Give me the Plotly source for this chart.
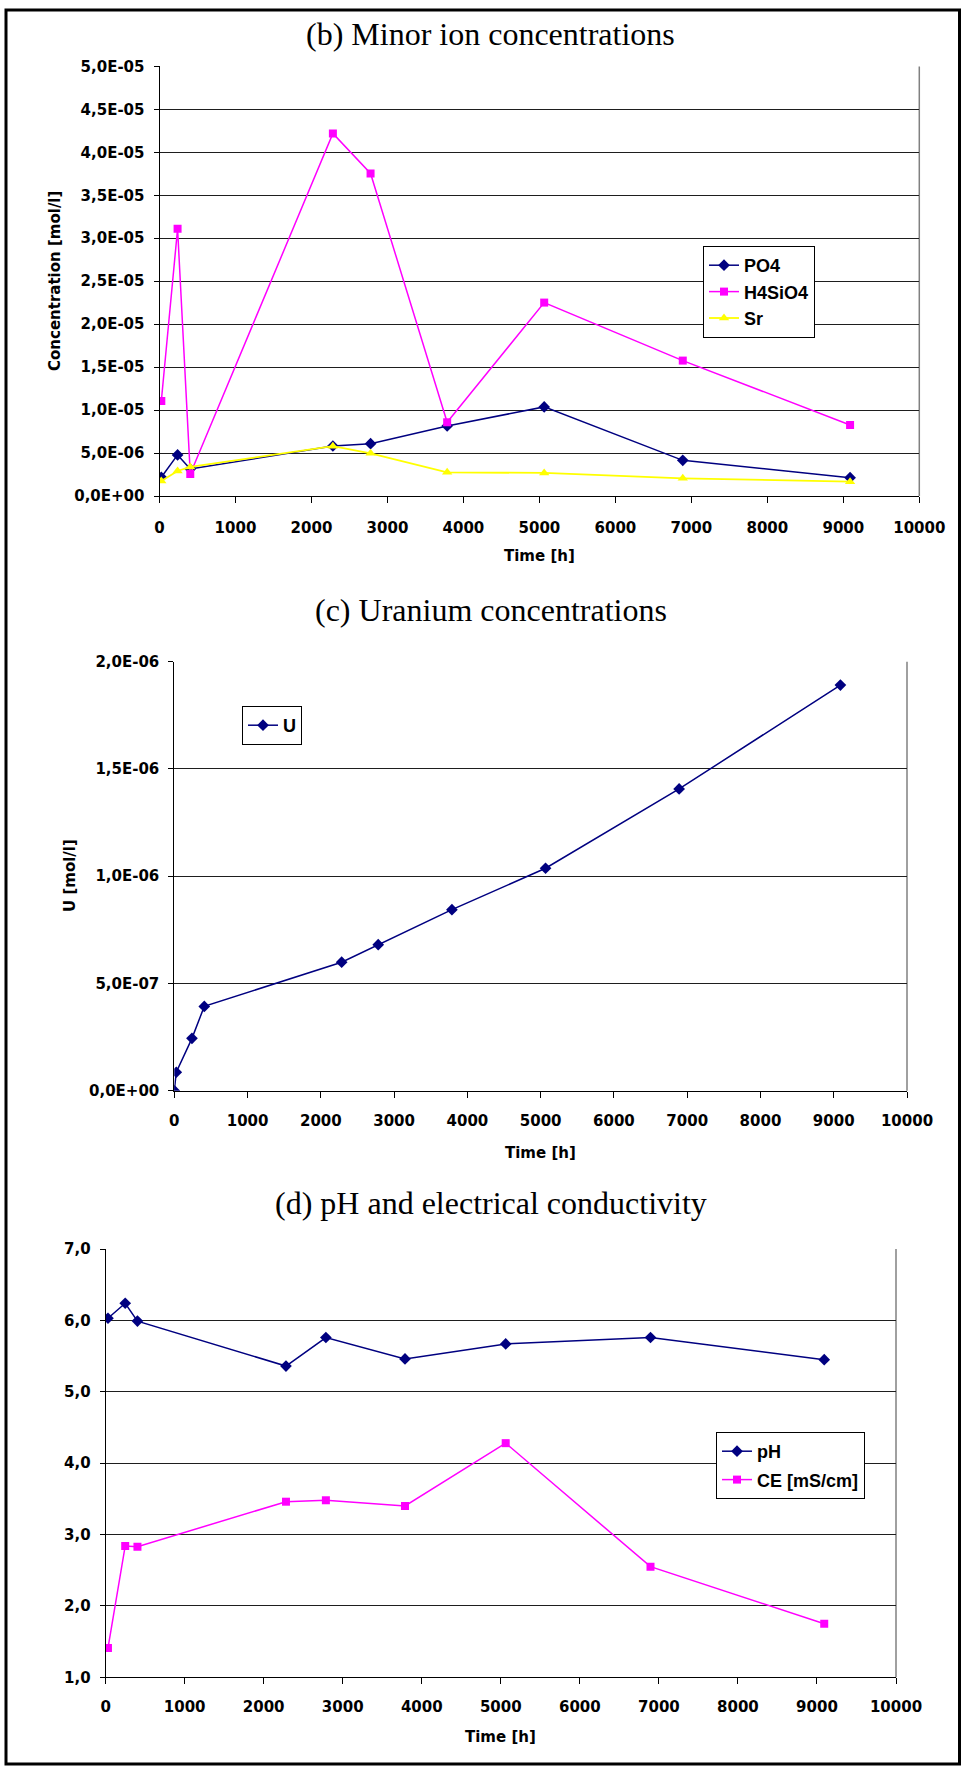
import plotly.graph_objects as go

# ---------------- data ----------------
time_b = [24, 238, 405, 2282, 2778, 3786, 5063, 6887, 9089]
po4 = [2.18e-6, 4.78e-6, 3.14e-6, 5.82e-6, 6.09e-6, 8.15e-6, 1.037e-5, 4.15e-6, 2.13e-6]
h4sio4 = [1.106e-5, 3.11e-5, 2.56e-6, 4.22e-5, 3.754e-5, 8.58e-6, 2.251e-5, 1.576e-5, 8.27e-6]
sr = [1.75e-6, 2.91e-6, 3.38e-6, 5.80e-6, 4.97e-6, 2.76e-6, 2.68e-6, 2.06e-6, 1.67e-6]

time_c = [0, 27, 241, 409, 2284, 2783, 3789, 5067, 6890, 9091]
u = [0, 8.6e-8, 2.44e-7, 3.93e-7, 5.99e-7, 6.81e-7, 8.44e-7, 1.037e-6, 1.407e-6, 1.891e-6]

time_d = [30, 248, 403, 2282, 2787, 3788, 5062, 6894, 9092]
ph = [6.03, 6.24, 5.99, 5.36, 5.76, 5.46, 5.67, 5.76, 5.45]
ce = [1.41, 2.84, 2.83, 3.46, 3.48, 3.40, 4.28, 2.55, 1.75]

x_tickvals = [0, 1000, 2000, 3000, 4000, 5000, 6000, 7000, 8000, 9000, 10000]
x_ticktext = ["0", "1000", "2000", "3000", "4000", "5000", "6000", "7000", "8000", "9000", "10000"]

yb_tickvals = [0, 5e-6, 1e-5, 1.5e-5, 2e-5, 2.5e-5, 3e-5, 3.5e-5, 4e-5, 4.5e-5, 5e-5]
yb_ticktext = ["0,0E+00", "5,0E-06", "1,0E-05", "1,5E-05", "2,0E-05", "2,5E-05",
               "3,0E-05", "3,5E-05", "4,0E-05", "4,5E-05", "5,0E-05"]
yc_tickvals = [0, 5e-7, 1e-6, 1.5e-6, 2e-6]
yc_ticktext = ["0,0E+00", "5,0E-07", "1,0E-06", "1,5E-06", "2,0E-06"]
yd_tickvals = [1, 2, 3, 4, 5, 6, 7]
yd_ticktext = ["1,0", "2,0", "3,0", "4,0", "5,0", "6,0", "7,0"]

# ---------------- layout helpers ----------------
W, H = 962, 1767
NAVY = "#000080"
MAG = "#FF00FF"
YEL = "#FFFF00"

def px_x(p):
    return p / W

def px_y(p):
    return 1 - p / H

TICKFONT = dict(family="DejaVu Sans", size=15, color="black", weight="bold")
LEGFONT = dict(family="Liberation Sans, Arial", size=18, color="black", weight="bold")

fig = go.Figure()

# chart (b)
fig.add_trace(go.Scatter(x=time_b, y=po4, name="PO4", mode="lines+markers",
                         line=dict(color=NAVY, width=1.5),
                         marker=dict(symbol="diamond", size=9, color=NAVY),
                         xaxis="x", yaxis="y", legend="legend", legendgroup="a"))
fig.add_trace(go.Scatter(x=time_b, y=h4sio4, name="H4SiO4", mode="lines+markers",
                         line=dict(color=MAG, width=1.5),
                         marker=dict(symbol="square", size=8, color=MAG),
                         xaxis="x", yaxis="y", legend="legend", legendgroup="b"))
fig.add_trace(go.Scatter(x=time_b, y=sr, name="Sr", mode="lines+markers",
                         line=dict(color=YEL, width=1.8),
                         marker=dict(symbol="triangle-up", size=9, color=YEL),
                         xaxis="x", yaxis="y", legend="legend", legendgroup="c"))
# chart (c)
fig.add_trace(go.Scatter(x=time_c, y=u, name="U", mode="lines+markers",
                         line=dict(color=NAVY, width=1.5),
                         marker=dict(symbol="diamond", size=9, color=NAVY),
                         xaxis="x2", yaxis="y2", legend="legend2"))
# chart (d)
fig.add_trace(go.Scatter(x=time_d, y=ph, name="pH", mode="lines+markers",
                         line=dict(color=NAVY, width=1.5),
                         marker=dict(symbol="diamond", size=9, color=NAVY),
                         xaxis="x3", yaxis="y3", legend="legend3", legendgroup="d"))
fig.add_trace(go.Scatter(x=time_d, y=ce, name="CE [mS/cm]", mode="lines+markers",
                         line=dict(color=MAG, width=1.5),
                         marker=dict(symbol="square", size=8, color=MAG),
                         xaxis="x3", yaxis="y3", legend="legend3", legendgroup="e"))

def xax(domain, anchor, standoff=10):
    return dict(domain=domain, anchor=anchor, range=[0, 10000],
                tickvals=x_tickvals, ticktext=x_ticktext, tickfont=TICKFONT,
                ticks="outside", ticklen=6, tickcolor="black", tickwidth=1,
                showline=True, linecolor="black", linewidth=1, mirror=False,
                showgrid=False, zeroline=False, automargin=False,
                ticklabelstandoff=standoff)

def yax(domain, anchor, rng, tv, tt):
    return dict(domain=domain, anchor=anchor, range=rng,
                tickvals=tv, ticktext=tt, tickfont=TICKFONT,
                ticks="outside", ticklen=5, tickcolor="black", tickwidth=1,
                showline=True, linecolor="black", linewidth=1,
                showgrid=True, gridcolor="#1e1e1e", gridwidth=1,
                zeroline=False, automargin=False, ticklabelstandoff=6)

b_x = [px_x(159.5), px_x(919.3)]
b_y = [px_y(496), px_y(66.4)]
c_x = [px_x(174.3), px_x(907)]
c_y = [px_y(1090.7), px_y(661.7)]
d_x = [px_x(105.6), px_x(896)]
d_y = [px_y(1677.3), px_y(1249)]

legend_common = dict(bgcolor="white", bordercolor="black", borderwidth=1,
                     font=LEGFONT, xanchor="left", yanchor="top",
                     traceorder="grouped")

fig.update_layout(
    width=W, height=H, autosize=False,
    margin=dict(l=0, r=0, t=0, b=0),
    paper_bgcolor="white", plot_bgcolor="white",
    xaxis=xax(b_x, "y", 12),
    yaxis=yax(b_y, "x", [0, 5e-5], yb_tickvals, yb_ticktext),
    xaxis2=xax(c_x, "y2"),
    yaxis2=yax(c_y, "x2", [0, 2e-6], yc_tickvals, yc_ticktext),
    xaxis3=xax(d_x, "y3"),
    yaxis3=yax(d_y, "x3", [1, 7], yd_tickvals, yd_ticktext),
    legend=dict(x=px_x(703), y=px_y(246), tracegroupgap=0, **legend_common),
    legend2=dict(x=px_x(242), y=px_y(706), **legend_common),
    legend3=dict(x=px_x(716), y=px_y(1432), tracegroupgap=2, **legend_common),
    showlegend=True,
)

shapes = []
for xr, yr in [("x domain", "y domain"), ("x2 domain", "y2 domain"), ("x3 domain", "y3 domain")]:
    shapes.append(dict(type="line", xref=xr, yref=yr, x0=1, x1=1, y0=0, y1=1,
                       line=dict(color="#808080", width=1.5), layer="below"))
shapes.append(dict(type="rect", xref="paper", yref="paper",
                   x0=px_x(6), x1=px_x(959.5), y0=px_y(1764), y1=px_y(10),
                   line=dict(color="black", width=3), layer="above"))
fig.update_layout(shapes=shapes)

TITLEFONT = dict(family="Liberation Serif, Times New Roman", size=32, color="black")
AXTFONT = dict(family="DejaVu Sans", size=15, color="black", weight="bold")
ann = [
    dict(text="(b) Minor ion concentrations", x=px_x(491), y=px_y(34), font=TITLEFONT),
    dict(text="(c) Uranium concentrations", x=px_x(491), y=px_y(610), font=TITLEFONT),
    dict(text="(d) pH and electrical conductivity", x=px_x(491), y=px_y(1203), font=TITLEFONT),
    dict(text="Time [h]", x=px_x(539.4), y=px_y(556), font=AXTFONT),
    dict(text="Time [h]", x=px_x(540.6), y=px_y(1153), font=AXTFONT),
    dict(text="Time [h]", x=px_x(500.8), y=px_y(1737), font=AXTFONT),
    dict(text="Concentration [mol/l]", x=px_x(55), y=px_y(281), font=AXTFONT, textangle=-90),
    dict(text="U [mol/l]", x=px_x(70), y=px_y(876), font=AXTFONT, textangle=-90),
]
for a in ann:
    a.update(xref="paper", yref="paper", showarrow=False, xanchor="center", yanchor="middle")
fig.update_layout(annotations=ann)

fig.write_html("out.html")
